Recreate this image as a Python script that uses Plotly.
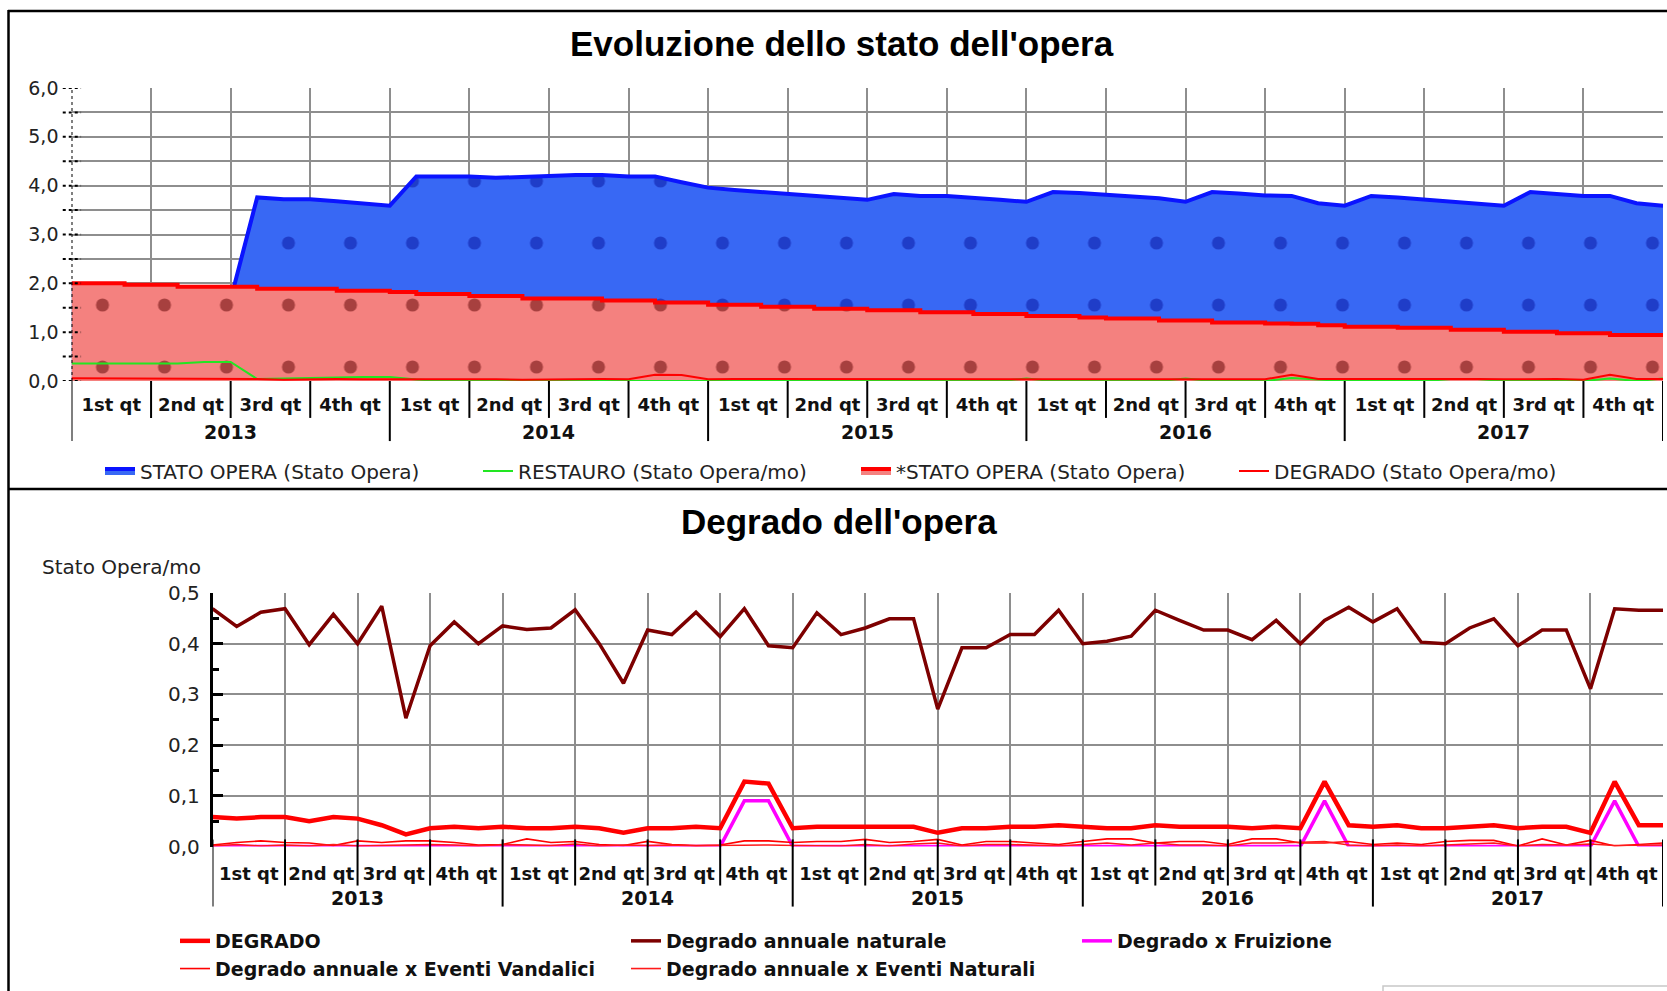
import plotly.graph_objects as go

W, H = 1667, 991

# ---------------- data ----------------
years = ["2013", "2014", "2015", "2016", "2017"]
quarters = ["1st qt", "2nd qt", "3rd qt", "4th qt"]
months = list(range(61))  # monthly steps from Jan 2013 to Jan 2018

stato_opera = [1.99, 1.93, 1.87, 1.82, 1.76, 1.71, 1.67,
               3.76, 3.72, 3.72, 3.68, 3.63, 3.59,
               4.19, 4.19, 4.19, 4.16, 4.19, 4.20, 4.22, 4.22, 4.19, 4.19,
               4.07, 3.96, 3.91, 3.87, 3.83, 3.79, 3.74, 3.71,
               3.83, 3.79, 3.79, 3.76, 3.71, 3.67,
               3.87, 3.85, 3.81, 3.78, 3.74, 3.67,
               3.87, 3.84, 3.80, 3.79, 3.64, 3.59,
               3.79, 3.76, 3.72, 3.69, 3.64, 3.59,
               3.87, 3.83, 3.79, 3.79, 3.64, 3.59]

stato_opera_star = [2.00, 2.00, 1.97, 1.97, 1.93, 1.93, 1.93, 1.89, 1.89, 1.89,
                    1.85, 1.85, 1.82, 1.78, 1.78, 1.74, 1.74, 1.69, 1.69, 1.69,
                    1.65, 1.65, 1.61, 1.61, 1.56, 1.56, 1.52, 1.52, 1.48, 1.48,
                    1.45, 1.45, 1.41, 1.41, 1.37, 1.37, 1.33, 1.33, 1.30, 1.28,
                    1.28, 1.24, 1.24, 1.20, 1.20, 1.18, 1.17, 1.14, 1.11, 1.11,
                    1.09, 1.09, 1.05, 1.05, 1.01, 1.01, 0.98, 0.98, 0.94, 0.94,
                    0.91]

restauro = [0.36, 0.36, 0.36, 0.36, 0.36, 0.39, 0.39, 0.04, 0.05, 0.06,
            0.08, 0.08, 0.08, 0.03, 0.00, 0.00, 0.00, 0.00, 0.00, 0.00,
            0.00, 0.00, 0.00, 0.00, 0.00, 0.00, 0.00, 0.00, 0.00, 0.00,
            0.00, 0.00, 0.00, 0.00, 0.00, 0.00, 0.05, 0.00, 0.00, 0.00,
            0.00, 0.00, 0.05, 0.00, 0.00, 0.00, 0.06, 0.03, 0.00, 0.00,
            0.00, 0.00, 0.04, 0.04, 0.00, 0.00, 0.00, 0.00, 0.05, 0.00,
            0.05]

degrado = [0.058, 0.055, 0.058, 0.058, 0.050, 0.058, 0.055, 0.042, 0.024, 0.036,
           0.039, 0.036, 0.039, 0.036, 0.036, 0.039, 0.036, 0.027, 0.036, 0.036,
           0.039, 0.036, 0.128, 0.124, 0.036, 0.039, 0.039, 0.039, 0.039, 0.039,
           0.027, 0.036, 0.036, 0.039, 0.039, 0.042, 0.039, 0.036, 0.036, 0.042,
           0.039, 0.039, 0.039, 0.036, 0.039, 0.036, 0.128, 0.042, 0.039, 0.042,
           0.036, 0.036, 0.039, 0.042, 0.036, 0.039, 0.039, 0.027, 0.128, 0.042,
           0.042]

deg_naturale = [0.469, 0.434, 0.462, 0.469, 0.398, 0.458, 0.400, 0.474, 0.253, 0.396,
                0.443, 0.400, 0.435, 0.428, 0.431, 0.467, 0.400, 0.322, 0.427, 0.418,
                0.462, 0.414, 0.469, 0.396, 0.392, 0.461, 0.418, 0.431, 0.449, 0.449,
                0.271, 0.392, 0.392, 0.418, 0.418, 0.466, 0.400, 0.405, 0.415, 0.466,
                0.446, 0.427, 0.427, 0.408, 0.446, 0.400, 0.446, 0.472, 0.443, 0.469,
                0.403, 0.400, 0.431, 0.449, 0.396, 0.427, 0.427, 0.311, 0.469, 0.466,
                0.466]

deg_fruizione = [0, 0, 0, 0, 0, 0, 0, 0, 0, 0,
                 0, 0, 0, 0, 0, 0, 0, 0, 0, 0,
                 0, 0, 0.09, 0.09, 0, 0, 0, 0, 0, 0,
                 0, 0, 0, 0, 0, 0, 0, 0, 0, 0,
                 0, 0, 0, 0, 0, 0, 0.09, 0, 0, 0,
                 0, 0, 0, 0, 0, 0, 0, 0, 0.09, 0,
                 0]

deg_vandalici = [0.003, 0.008, 0.011, 0.008, 0.007, 0.002, 0.011, 0.008, 0.011, 0.011,
                 0.008, 0.003, 0.004, 0.015, 0.008, 0.010, 0.004, 0.002, 0.010, 0.004,
                 0.002, 0.003, 0.011, 0.011, 0.008, 0.010, 0.010, 0.014, 0.008, 0.010,
                 0.014, 0.003, 0.010, 0.010, 0.007, 0.004, 0.010, 0.015, 0.015, 0.007,
                 0.010, 0.010, 0.004, 0.015, 0.015, 0.007, 0.007, 0.010, 0.004, 0.007,
                 0.004, 0.010, 0.012, 0.012, 0.001, 0.015, 0.003, 0.012, 0.001, 0.004,
                 0.007]

deg_eventi_naturali = [0.001, 0.004, 0.001, 0.003, 0.001, 0.004, 0.001, 0.002, 0.002, 0.004,
                       0.003, 0.001, 0.004, 0.003, 0.002, 0.005, 0.001, 0.003, 0.002, 0.003,
                       0.001, 0.002, 0.003, 0.003, 0.002, 0.002, 0.001, 0.004, 0.001, 0.005,
                       0.007, 0.001, 0.004, 0.004, 0.002, 0.001, 0.004, 0.007, 0.003, 0.007,
                       0.003, 0.003, 0.001, 0.007, 0.007, 0.008, 0.010, 0.003, 0.001, 0.003,
                       0.001, 0.003, 0.005, 0.007, 0.001, 0.004, 0.003, 0.005, 0.002, 0.003,
                       0.003]

top_yticks = [0, 1, 2, 3, 4, 5, 6]
top_yminor = [0.5 * i for i in range(13)]
bot_yticks = [0.0, 0.1, 0.2, 0.3, 0.4, 0.5]

# ---------------- helpers ----------------
def fx(p):
    return p / W

def fy(p):
    return 1 - p / H

def comma(v):
    return f"{v:.1f}".replace(".", ",")

quarter_pos = [1.5 + 3 * i for i in range(len(years) * 4)]
quarter_lab = quarters * len(years)
quarter_edges = [3 * i for i in range(len(years) * 4 + 1)]
year_pos = [6 + 12 * i for i in range(len(years))]

GRID = "#8e8e8e"
AX_FONT = "DejaVu Sans"
TITLE_FONT = "Liberation Sans"

fig = go.Figure()

# ---------------- top chart ----------------
fig.add_trace(go.Scatter(
    x=months, y=stato_opera, name="STATO OPERA (Stato Opera)",
    mode="lines", line=dict(color="#0a14ff", width=4),
    fill="tozeroy", fillcolor="#3868f4",
    fillpattern=dict(shape=".", fgcolor="#06129c", bgcolor="#3868f4",
                     size=62, solidity=0.035),
    xaxis="x", yaxis="y", legend="legend", legendrank=1))
fig.add_trace(go.Scatter(
    x=months, y=stato_opera_star, name="*STATO OPERA (Stato Opera)",
    mode="lines", line=dict(color="#ff0000", width=4, shape="hv"),
    fill="tozeroy", fillcolor="#f4817f",
    fillpattern=dict(shape=".", fgcolor="#5a0000", bgcolor="#f4817f",
                     size=62, solidity=0.035),
    xaxis="x", yaxis="y", legend="legend", legendrank=3))
fig.add_trace(go.Scatter(
    x=months, y=restauro, name="RESTAURO (Stato Opera/mo)",
    mode="lines", line=dict(color="#22e622", width=2),
    xaxis="x", yaxis="y", legend="legend", legendrank=2))
fig.add_trace(go.Scatter(
    x=months, y=degrado, name="DEGRADO (Stato Opera/mo)",
    mode="lines", line=dict(color="#ff0000", width=2),
    xaxis="x", yaxis="y", legend="legend", legendrank=4))

# ---------------- bottom chart ----------------
bottom_series = [
    ("DEGRADO", degrado, "#ff0000", 4.5),
    ("Degrado annuale naturale", deg_naturale, "#7d0000", 3.5),
    ("Degrado x Fruizione", deg_fruizione, "#ff00ff", 3.5),
    ("Degrado annuale x Eventi Vandalici", deg_vandalici, "#ff0000", 1.6),
    ("Degrado annuale x Eventi Naturali", deg_eventi_naturali, "#ff1a1a", 1.6),
]
for name, vals, col, wd in bottom_series:
    fig.add_trace(go.Scatter(
        x=months, y=vals, name=name, mode="lines",
        line=dict(color=col, width=wd),
        xaxis="x2", yaxis="y2", legend="legend2"))

# ---------------- axes ----------------
QFONT = dict(family=AX_FONT, size=18, color="#111", weight="bold")
YRFONT = dict(family=AX_FONT, size=19, color="#111", weight="bold")
top_dom_y = [fy(381), fy(88)]
bot_dom_y = [fy(846.5), fy(593)]
fig.update_layout(
    xaxis=dict(domain=[fx(71.5), fx(1663)], range=[0, 60], anchor="y",
               tickmode="array", tickvals=quarter_pos, ticktext=quarter_lab,
               ticks="", showgrid=False, zeroline=False, showline=False,
               ticklabelstandoff=11, tickfont=QFONT,
               minor=dict(tickmode="array", tickvals=quarter_edges, showgrid=True,
                          gridcolor=GRID, gridwidth=2, ticks="")),
    yaxis=dict(domain=top_dom_y, range=[0, 6], anchor="x",
               tickmode="array", tickvals=top_yticks,
               ticktext=[comma(v) for v in top_yticks],
               ticks="", showgrid=True, gridcolor=GRID, gridwidth=2,
               zeroline=False, showline=False, ticklabelstandoff=12,
               tickfont=dict(family=AX_FONT, size=19, color="#222"),
               minor=dict(tickmode="array", tickvals=top_yminor, showgrid=True,
                          gridcolor=GRID, gridwidth=2, ticks="")),
    xaxis2=dict(domain=[fx(212.5), fx(1663)], range=[0, 60], anchor="y2",
                tickmode="array", tickvals=quarter_pos, ticktext=quarter_lab,
                ticks="", showgrid=False, zeroline=False, showline=False,
                ticklabelstandoff=14, tickfont=QFONT,
                minor=dict(tickmode="array", tickvals=quarter_edges, showgrid=True,
                           gridcolor=GRID, gridwidth=2, ticks="")),
    yaxis2=dict(domain=bot_dom_y, range=[0, 0.5], anchor="x2",
                tickmode="array", tickvals=bot_yticks,
                ticktext=[comma(v) for v in bot_yticks],
                ticks="inside", ticklen=11, tickwidth=2.5, tickcolor="#000",
                showgrid=True, gridcolor=GRID, gridwidth=2,
                zeroline=False, showline=True, linecolor="#000", linewidth=2.5,
                ticklabelstandoff=6,
                tickfont=dict(family=AX_FONT, size=20, color="#222"),
                minor=dict(dtick=0.05, ticks="inside", ticklen=7,
                           tickwidth=2.5, tickcolor="#000", showgrid=False)),
)

shapes = []
# top: dotted y axis line and dotted ticks
shapes.append(dict(type="line", xref="x", yref="y domain", x0=0, x1=0, y0=0, y1=1,
                   line=dict(color="#000", width=2, dash="dot")))
for v in top_yminor:
    shapes.append(dict(type="line", xref="x domain", yref="y", x0=-0.0055, x1=0.006,
                       y0=v, y1=v, line=dict(color="#000", width=2, dash="dot")))
# category separators
for e in quarter_edges:
    is_year = (e % 12 == 0)
    shapes.append(dict(type="line", xref="x", yref="y domain", x0=e, x1=e,
                       y0=0, y1=-0.205 if is_year else -0.126,
                       line=dict(color="#000", width=2)))
    shapes.append(dict(type="line", xref="x2", yref="y2 domain", x0=e, x1=e,
                       y0=0.028, y1=-0.237 if is_year else -0.154,
                       line=dict(color="#000", width=2)))
# panel frames
shapes += [
    dict(type="line", xref="paper", yref="paper", x0=fx(8), x1=1, y0=fy(11), y1=fy(11),
         line=dict(color="#000", width=2.5)),
    dict(type="line", xref="paper", yref="paper", x0=fx(8.5), x1=fx(8.5), y0=fy(10), y1=0,
         line=dict(color="#000", width=2.5)),
    dict(type="line", xref="paper", yref="paper", x0=fx(8), x1=1, y0=fy(489), y1=fy(489),
         line=dict(color="#000", width=2.5)),
    dict(type="rect", xref="paper", yref="paper", x0=fx(1383), x1=1.01, y0=fy(986), y1=-0.02,
         line=dict(color="#c8c8c8", width=1.5), fillcolor="rgba(0,0,0,0)"),
]

annotations = []
for i, yv in enumerate(years):
    annotations.append(dict(x=year_pos[i], y=fy(432), xref="x", yref="paper", text=yv,
                            showarrow=False, yanchor="middle", font=YRFONT))
    annotations.append(dict(x=year_pos[i], y=fy(898), xref="x2", yref="paper", text=yv,
                            showarrow=False, yanchor="middle", font=YRFONT))
annotations += [
    dict(x=fx(842), y=fy(43), xref="paper", yref="paper", text="<b>Evoluzione dello stato dell'opera</b>",
         showarrow=False, yanchor="middle", font=dict(family=TITLE_FONT, size=35, color="#000")),
    dict(x=fx(839), y=fy(521), xref="paper", yref="paper", text="<b>Degrado dell'opera</b>",
         showarrow=False, yanchor="middle", font=dict(family=TITLE_FONT, size=35, color="#000")),
    dict(x=fx(40), y=fy(567), xref="paper", yref="paper", text="Stato Opera/mo",
         showarrow=False, xanchor="left", yanchor="middle",
         font=dict(family=AX_FONT, size=20, color="#222")),
]

fig.update_layout(
    width=W, height=H, margin=dict(l=0, r=0, t=0, b=0, autoexpand=False),
    paper_bgcolor="white", plot_bgcolor="white",
    shapes=shapes, annotations=annotations,
    legend=dict(orientation="h", x=fx(100), y=fy(471), xanchor="left", yanchor="middle",
                entrywidth=333, entrywidthmode="pixels", bgcolor="rgba(0,0,0,0)",
                font=dict(family=AX_FONT, size=20, color="#222"), traceorder="normal"),
    legend2=dict(orientation="h", x=fx(175), y=fy(922), xanchor="left", yanchor="top",
                 entrywidth=406, entrywidthmode="pixels", bgcolor="rgba(0,0,0,0)",
                 font=dict(family=AX_FONT, size=19, color="#111", weight="bold"),
                 traceorder="normal"),
)

fig.write_html("out.html", config={"displayModeBar": False},
               post_script="document.body.style.margin='0';document.body.style.overflow='hidden';")
